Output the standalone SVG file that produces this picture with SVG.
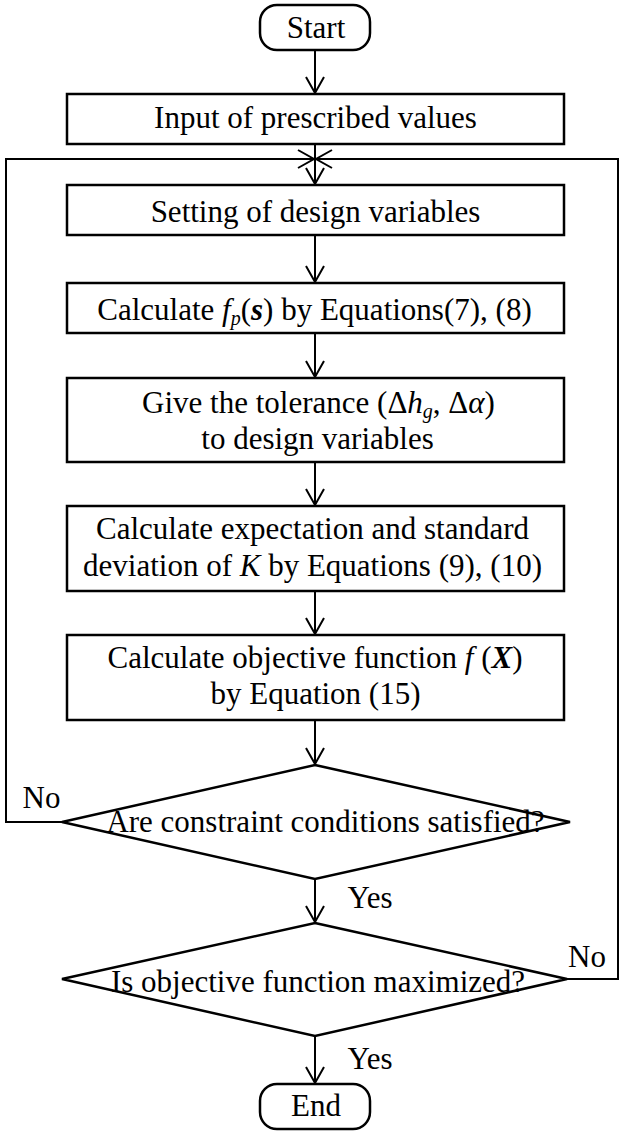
<svg xmlns="http://www.w3.org/2000/svg" width="623" height="1134" viewBox="0 0 623 1134">
<style>
  .box { fill: #fff; stroke: #000; stroke-width: 2.5; }
  .dia { fill: none; stroke: #000; stroke-width: 2.5; }
  .ln { fill: none; stroke: #000; stroke-width: 2; }
  .t { font-family: "Liberation Serif", "Times New Roman", serif; font-size: 31px; fill: #000; text-anchor: middle; }
  .i { font-style: italic; }
  .bi { font-style: italic; font-weight: bold; }
  .sub { font-size: 20px; font-style: italic; }
</style>
<defs>
  <marker id="arr" markerUnits="userSpaceOnUse" markerWidth="24" markerHeight="24" viewBox="-18 -12 20 24" refX="0" refY="0" orient="auto">
    <path d="M-16,-9 L0,0 L-16,9" fill="none" stroke="#000" stroke-width="2"/>
  </marker>
</defs>
<g id="connectors">
  <line class="ln" x1="315" y1="50" x2="315" y2="93" marker-end="url(#arr)"/>
  <line class="ln" x1="315" y1="144" x2="315" y2="184" marker-end="url(#arr)"/>
  <line class="ln" x1="315" y1="235" x2="315" y2="282" marker-end="url(#arr)"/>
  <line class="ln" x1="315" y1="333" x2="315" y2="377" marker-end="url(#arr)"/>
  <line class="ln" x1="315" y1="462" x2="315" y2="505" marker-end="url(#arr)"/>
  <line class="ln" x1="315" y1="591" x2="315" y2="634" marker-end="url(#arr)"/>
  <line class="ln" x1="315" y1="720" x2="315" y2="764" marker-end="url(#arr)"/>
  <line class="ln" x1="315" y1="879" x2="315" y2="922" marker-end="url(#arr)"/>
  <line class="ln" x1="315" y1="1036" x2="315" y2="1083" marker-end="url(#arr)"/>
  <polyline class="ln" points="62,822 6,822 6,159 314,159" marker-end="url(#arr)"/>
  <polyline class="ln" points="567,979 618,979 618,159 316,159" marker-end="url(#arr)"/>
  <text class="t" x="41.5" y="808">No</text>
  <text class="t" x="587" y="967">No</text>
  <text class="t" x="370" y="908">Yes</text>
  <text class="t" x="370" y="1069">Yes</text>
</g>
<g id="start">
  <rect class="box" x="260" y="5" width="110" height="45" rx="17" ry="17"/>
  <text class="t" x="316" y="38">Start</text>
</g>
<g id="input">
  <rect class="box" x="67" y="94" width="497" height="50"/>
  <text class="t" x="315.5" y="128">Input of prescribed values</text>
</g>
<g id="setting">
  <rect class="box" x="67" y="185" width="497" height="50"/>
  <text class="t" x="315.5" y="222">Setting of design variables</text>
</g>
<g id="calc-fp">
  <rect class="box" x="67" y="283" width="497" height="50"/>
  <text class="t" x="314.5" y="320">Calculate <tspan class="i">f</tspan><tspan class="sub" dy="5">p</tspan><tspan dy="-5">(</tspan><tspan class="bi">s</tspan>) by Equations(7), (8)</text>
</g>
<g id="tolerance">
  <rect class="box" x="67" y="378" width="497" height="84"/>
  <text class="t" x="318.5" y="413">Give the tolerance (Δ<tspan class="i">h</tspan><tspan class="sub" dy="5">g</tspan><tspan dy="-5">, Δ</tspan><tspan class="i">α</tspan>)</text>
  <text class="t" x="317.5" y="449">to design variables</text>
</g>
<g id="expectation">
  <rect class="box" x="67" y="506" width="497" height="85"/>
  <text class="t" x="312.5" y="539">Calculate expectation and standard</text>
  <text class="t" x="312.5" y="576">deviation of <tspan class="i">K</tspan> by Equations (9), (10)</text>
</g>
<g id="objective">
  <rect class="box" x="67" y="635" width="497" height="85"/>
  <text class="t" x="315" y="668">Calculate objective function <tspan class="i">f</tspan> (<tspan class="bi">X</tspan>)</text>
  <text class="t" x="315.5" y="704">by Equation (15)</text>
</g>
<g id="constraints">
  <polygon class="dia" points="315,765 570,822 315,879 62,822"/>
  <text class="t" x="325.5" y="832">Are constraint conditions satisfied?</text>
</g>
<g id="maximized">
  <polygon class="dia" points="315,923 567,979 315,1036 62,979"/>
  <text class="t" x="318" y="992">Is objective function maximized?</text>
</g>
<g id="end">
  <rect class="box" x="260" y="1084" width="110" height="45" rx="17" ry="17"/>
  <text class="t" x="316" y="1116">End</text>
</g>
</svg>
